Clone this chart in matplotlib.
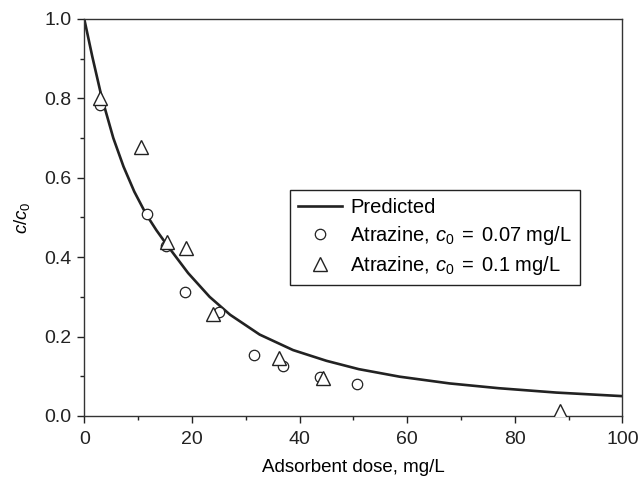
#!/usr/bin/env python3
"""Atrazine removal vs adsorbent dose: predicted curve and measured c/c0 points -> out.png"""
import matplotlib
matplotlib.use("Agg")
import matplotlib.pyplot as plt

plt.rcParams.update({
    "font.family": "Liberation Sans",
    "font.size": 14,
    "mathtext.fontset": "custom",
    "mathtext.rm": "Liberation Sans",
    "mathtext.it": "Liberation Sans:italic",
})

# predicted curve, points
pred_dose = [0, 1.5, 3.2, 5.4, 7.3, 9.3, 11.5, 13.4, 15.3, 19.3, 23.3, 27.1, 32.6,
             38.8, 45.0, 51.0, 58.6, 67.9, 77.0, 87.7, 100.0]
pred_ratio = [1.0, 0.905, 0.805, 0.70, 0.628, 0.565, 0.508, 0.468, 0.432, 0.36, 0.30,
              0.255, 0.205, 0.166, 0.139, 0.118, 0.099, 0.082, 0.070, 0.059, 0.050]

# atrazine, c0 = 0.07 mg/L
dose_07 = [3.0, 11.6, 15.2, 18.7, 25.1, 31.6, 37.0, 43.8, 50.6]
ratio_07 = [0.783, 0.508, 0.428, 0.311, 0.261, 0.153, 0.126, 0.099, 0.081]

# atrazine, c0 = 0.1 mg/L
dose_10 = [3.0, 10.5, 15.4, 18.9, 24.0, 36.2, 44.4, 88.4]
ratio_10 = [0.80, 0.677, 0.439, 0.422, 0.257, 0.145, 0.095, 0.013]

fig = plt.figure(figsize=(6.43, 4.84), dpi=100)
ax = fig.add_axes([0.131, 0.1405, 0.837, 0.8205])

ax.plot(pred_dose, pred_ratio, color="#222222", lw=1.9, label="Predicted", zorder=2)
ax.plot(dose_07, ratio_07, ls="none", marker="o", ms=7.5, mfc="white", mec="#222222",
        mew=0.9, label=r"Atrazine, $c_0\;=\;$0.07 mg/L", zorder=3)
ax.plot(dose_10, ratio_10, ls="none", marker="^", ms=9.5, mfc="white", mec="#222222",
        mew=1.0, label=r"Atrazine, $c_0\;=\;$0.1 mg/L", zorder=4)

ax.set_xlim(0, 100)
ax.set_ylim(0, 1.0)
ax.set_xticks([0, 20, 40, 60, 80, 100])
ax.set_xticks([10, 30, 50, 70, 90], minor=True)
ax.set_yticks([0.0, 0.2, 0.4, 0.6, 0.8, 1.0])
ax.set_yticks([0.1, 0.3, 0.5, 0.7, 0.9], minor=True)
ax.yaxis.set_major_formatter(matplotlib.ticker.FormatStrFormatter("%.1f"))
ax.tick_params(which="major", direction="out", length=5, width=1, labelsize=14,
               colors="#222222", pad=4)
ax.tick_params(axis="x", which="major", pad=6)
ax.tick_params(which="minor", direction="out", length=3, width=1, colors="#222222")
for s in ax.spines.values():
    s.set_linewidth(1.0)
    s.set_color("#333333")

ax.set_xlabel("Adsorbent dose, mg/L", fontsize=13.5, labelpad=8)
ax.set_ylabel(r"$c/c_0$", fontsize=13.5, labelpad=9)

leg = ax.legend(loc="upper left", bbox_to_anchor=(0.382, 0.569), fontsize=14.5,
                frameon=True, fancybox=False, edgecolor="#222222", framealpha=1,
                handlelength=2.2, handletextpad=0.4, labelspacing=0.35,
                borderpad=0.4, borderaxespad=0)
leg.get_frame().set_linewidth(1.0)

fig.savefig("out.png", dpi=100)
